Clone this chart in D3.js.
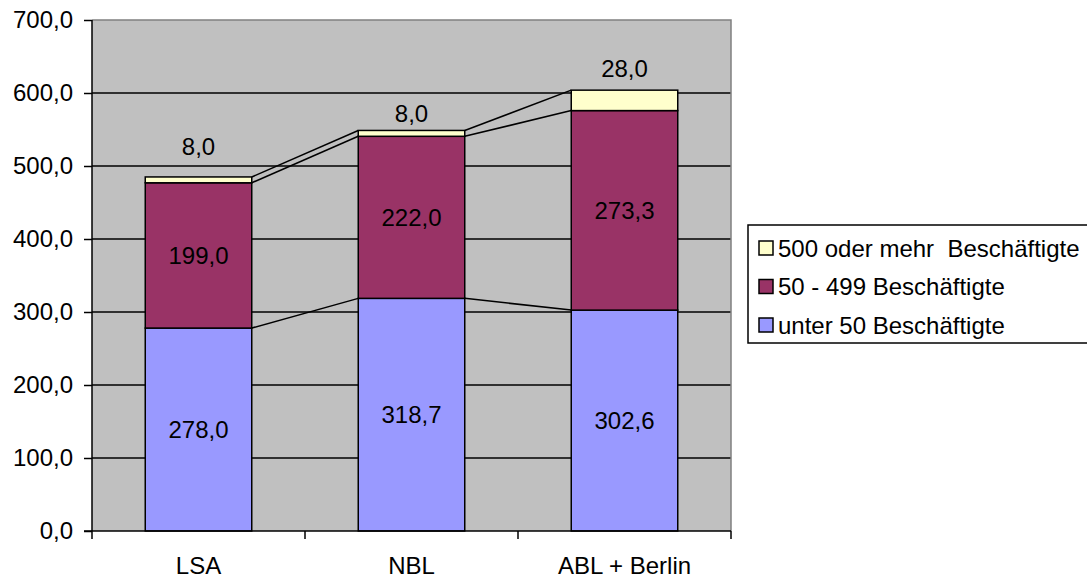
<!DOCTYPE html>
<html>
<head>
<meta charset="utf-8">
<script src="https://cdn.jsdelivr.net/npm/d3@7"></script>
<style>
  html, body { margin: 0; padding: 0; background: #ffffff; }
  svg { display: block; font-family: "Liberation Sans", Arial, sans-serif; }
</style>
</head>
<body>
<svg id="chart" width="1087" height="579"></svg>
<script>
// Regions compared
const categories = ["LSA", "NBL", "ABL + Berlin"];

// Values per size class of enterprise (stacked bottom to top)
const seriesNames = ["unter 50 Beschäftigte", "50 - 499 Beschäftigte", "500 oder mehr  Beschäftigte"];
const under50 = [278.0, 318.7, 302.6];
const from50to499 = [199.0, 222.0, 273.3];
const over500 = [8.0, 8.0, 28.0];

const yTicks = [0, 100, 200, 300, 400, 500, 600, 700];

const colors = ["#9999FF", "#993366", "#FFFFCC"];

const svg = d3.select("#chart");
const plot = { left: 92, right: 731, top: 20, bottom: 531 };
const fmt = v => d3.format(".1f")(v).replace(".", ",");

const x = d3.scaleBand().domain(categories).range([plot.left, plot.right]).paddingInner(0.5).paddingOuter(0.25);
const y = d3.scaleLinear().domain([0, 700]).range([plot.bottom, plot.top]);

const rows = categories.map((c, i) => ({ cat: c, s0: under50[i], s1: from50to499[i], s2: over500[i] }));
const stack = d3.stack().keys(["s0", "s1", "s2"])(rows);

// plot area background
svg.append("rect")
  .attr("x", plot.left).attr("y", plot.top)
  .attr("width", plot.right - plot.left).attr("height", plot.bottom - plot.top)
  .attr("fill", "#C0C0C0");

// gridlines
svg.append("g").selectAll("line").data(yTicks.filter(t => t > 0 && t < 700)).join("line")
  .attr("x1", plot.left).attr("x2", plot.right)
  .attr("y1", d => y(d)).attr("y2", d => y(d))
  .attr("stroke", "#000").attr("stroke-width", 1.3);

// frame top and right
svg.append("path")
  .attr("d", `M${plot.left},${plot.top}H${plot.right}V${plot.bottom}`)
  .attr("fill", "none").attr("stroke", "#808080").attr("stroke-width", 1.5);

// series connector lines between bars
stack.forEach(layer => {
  for (let i = 0; i < categories.length - 1; i++) {
    svg.append("line")
      .attr("x1", x(categories[i]) + x.bandwidth()).attr("y1", y(layer[i][1]))
      .attr("x2", x(categories[i + 1])).attr("y2", y(layer[i + 1][1]))
      .attr("stroke", "#000").attr("stroke-width", 1.5);
  }
});

// bars
stack.forEach((layer, k) => {
  svg.append("g").selectAll("rect").data(layer).join("rect")
    .attr("x", d => x(d.data.cat))
    .attr("y", d => y(d[1]))
    .attr("width", x.bandwidth())
    .attr("height", d => y(d[0]) - y(d[1]))
    .attr("fill", colors[k])
    .attr("stroke", "#000").attr("stroke-width", 1.5);
});

// value labels
const fontSize = 24;
const topLabelLift = [30, 17, 22];
stack.forEach((layer, k) => {
  svg.append("g").selectAll("text").data(layer).join("text")
    .attr("x", d => x(d.data.cat) + x.bandwidth() / 2)
    .attr("y", (d, i) => k === 2 ? y(d[1]) - topLabelLift[i] : (y(d[0]) + y(d[1])) / 2)
    .attr("text-anchor", "middle").attr("dominant-baseline", "central")
    .attr("font-size", fontSize).attr("fill", "#000")
    .text(d => fmt(d[1] - d[0]));
});

// y axis
const yAxis = d3.axisLeft(y).tickValues(yTicks).tickSize(8).tickFormat(fmt);
const gy = svg.append("g").attr("transform", `translate(${plot.left},0)`).call(yAxis);
gy.select(".domain").attr("stroke", "#000").attr("stroke-width", 1.5).attr("d", `M0,${plot.top}V${plot.bottom}`);
gy.selectAll(".tick line").attr("stroke", "#000").attr("stroke-width", 1.5);
gy.selectAll(".tick text").attr("x", -19).attr("font-size", fontSize).attr("font-family", "Liberation Sans, Arial, sans-serif").attr("fill", "#000");

// x axis with ticks at category boundaries
const gx = svg.append("g").attr("transform", `translate(0,${plot.bottom})`);
gx.append("line").attr("x1", plot.left - 8).attr("x2", plot.right)
  .attr("stroke", "#000").attr("stroke-width", 1.5);
const step = x.step();
const bounds = d3.range(categories.length + 1).map(i => plot.left + i * step);
gx.selectAll("line.tk").data(bounds).join("line").attr("class", "tk")
  .attr("x1", d => d).attr("x2", d => d).attr("y1", 0).attr("y2", 8)
  .attr("stroke", "#000").attr("stroke-width", 1.5);
gx.selectAll("text").data(categories).join("text")
  .attr("x", d => x(d) + x.bandwidth() / 2).attr("y", 34)
  .attr("text-anchor", "middle").attr("dominant-baseline", "central")
  .attr("font-size", fontSize).attr("fill", "#000").text(d => d);

// legend
const lg = svg.append("g");
lg.append("rect").attr("x", 748).attr("y", 225).attr("width", 345).attr("height", 118)
  .attr("fill", "#fff").attr("stroke", "#000").attr("stroke-width", 1.5);
const legendOrder = [2, 1, 0];
legendOrder.forEach((k, r) => {
  const cy = 248 + r * 38.5;
  lg.append("rect").attr("x", 759).attr("y", cy - 7).attr("width", 14).attr("height", 14)
    .attr("fill", colors[k]).attr("stroke", "#000").attr("stroke-width", 1.5);
  lg.append("text").attr("x", 778).attr("y", cy).attr("dominant-baseline", "central")
    .attr("font-size", fontSize).attr("fill", "#000").attr("xml:space", "preserve")
    .style("white-space", "pre").text(seriesNames[k]);
});
</script>
</body>
</html>
